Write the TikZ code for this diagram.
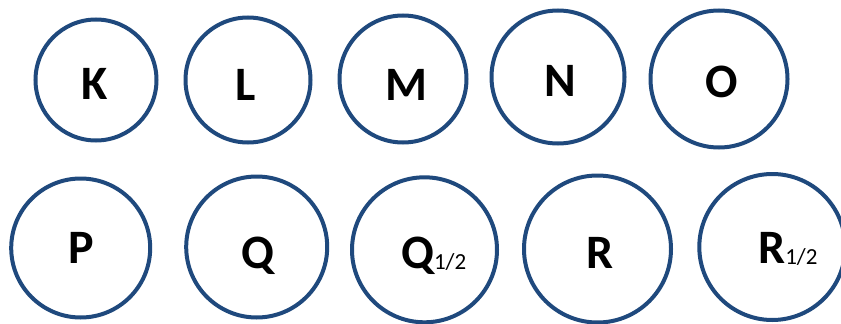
\documentclass[tikz,border=0pt]{standalone}
\usepackage{fontspec}
\setmainfont{Carlito}
\definecolor{ringblue}{RGB}{31,73,125}
\newcommand{\halfsub}{{\fontsize{23}{23}\selectfont\mdseries\raisebox{-1pt}{1/2}}}
\begin{document}
\begin{tikzpicture}[x=1pt,y=-1pt,
  ring/.style={circle, draw=ringblue, line width=4pt, inner sep=0pt, minimum size=#1},
  lbl/.style={anchor=base, inner sep=0pt, text=black, font=\fontsize{48}{48}\selectfont\bfseries},
]
\useasboundingbox (0,0) rectangle (841,324);
\clip (0,0) rectangle (841,324);
% top row
\node[ring=121] (cK) at (96,80) {};
\node[ring=125] (cL) at (248,80) {};
\node[ring=127] (cM) at (403,79) {};
\node[ring=133] (cN) at (558,77) {};
\node[ring=137] (cO) at (719,79) {};
% bottom row
\node[ring=139] (cP) at (80.7,248) {};
\node[ring=141] (cQ) at (256.7,247) {};
\node[ring=145] (cQh) at (424.5,249.8) {};
\node[ring=147] (cR) at (597.5,249) {};
\node[ring=146] (cRh) at (772.3,247) {};
% labels
\node[lbl] (tK) at (94.3,99) {K};
\node[lbl] (tL) at (246,100) {L};
\node[lbl] (tM) at (406,100) {M};
\node[lbl] (tN) at (560,96.7) {N};
\node[lbl] (tO) at (722,97.3) {O};
\node[lbl] (tP) at (81,263.7) {P};
\node[lbl] (tQ) at (257.5,268.5) {Q};
\node[lbl] (tQh) at (433.7,268) {Q\halfsub};
\node[lbl] (tR) at (600.5,268) {R};
\node[lbl] (tRh) at (787.9,263.3) {R\halfsub};
\end{tikzpicture}
\end{document}
